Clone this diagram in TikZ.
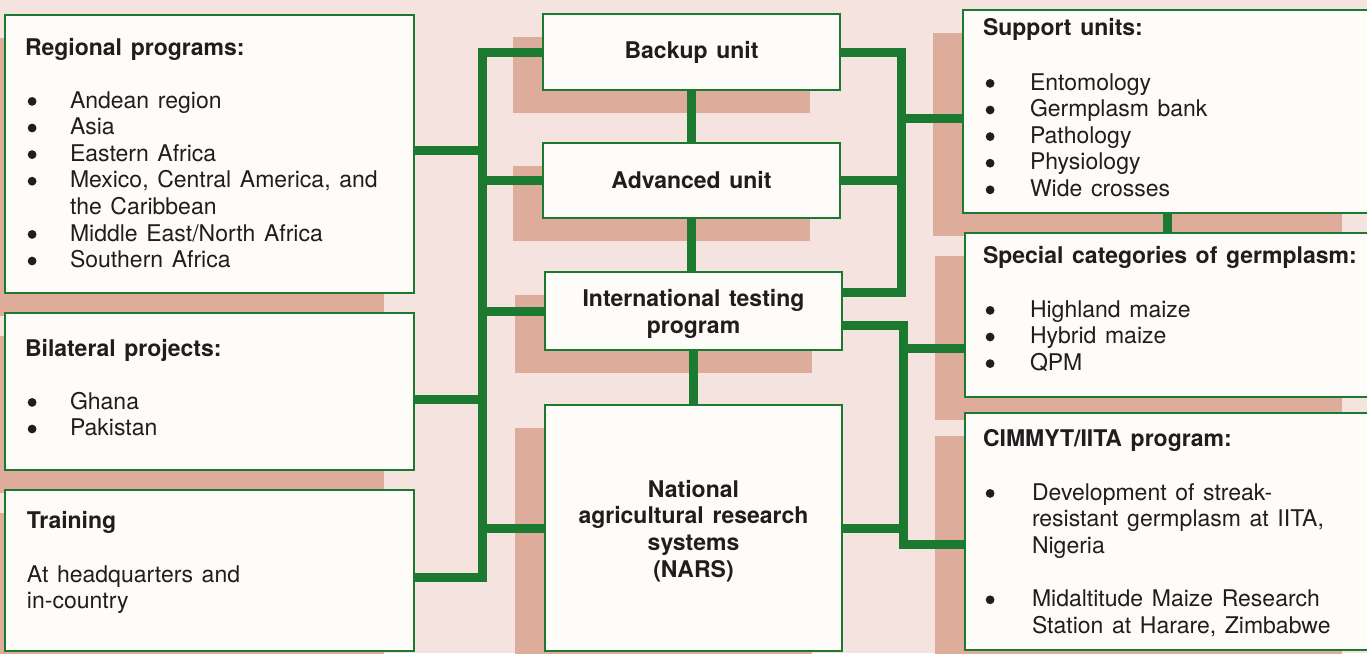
\documentclass[tikz,border=0pt]{standalone}
\usepackage{fontspec}
\setmainfont{TeX Gyre Heros}[WordSpace=1.35]
\usetikzlibrary{shadows,fit}
\definecolor{bg}{HTML}{F5E3E0}
\definecolor{shade}{HTML}{DDAC9B}
\definecolor{boxfill}{HTML}{FEFCF9}
\definecolor{grn}{HTML}{1C7A30}
\definecolor{ink}{HTML}{221C1F}
\newcommand{\blt}[1]{\makebox[#1][l]{\hspace{2.7pt}\raisebox{2.2pt}{\tikz\fill[ink] (0,0) circle (4.4pt);}}}
\begin{document}
\begin{tikzpicture}[x=1pt,y=-1pt,
  box/.style={draw=grn, line width=2.8pt, fill=boxfill, inner sep=0pt,
    general shadow={fill=shade, shadow xshift=-30pt, shadow yshift=-23pt}},
  conn/.style={draw=grn, line width=9pt, line join=miter, line cap=butt},
  txt/.style={inner sep=0pt, outer sep=0pt, text=ink, anchor=base west,
    font=\fontsize{23}{26.6}\selectfont},
  hd/.style={txt, font=\fontsize{23}{26.6}\selectfont\bfseries},
  ctxt/.style={inner sep=0pt, text=ink, align=center,
    font=\fontsize{23}{26.6}\selectfont\bfseries}]
\useasboundingbox[fill=bg] (0,0) rectangle (1367,653);

% ---- boxes (with offset shadows) ----
\node[box, fit={(5,15) (414,293)}] (rp) {};
\node[box, fit={(5,313) (414,470)}] (bp) {};
\node[box, fit={(5,490) (414,651)}] (tr) {};
\node[box, fit={(543,14) (840,90)}] (backup) {};
\node[box, fit={(543,143) (840,218)}] (adv) {};
\node[box, fit={(545,272) (842,350)}] (itp) {};
\node[box, fit={(545,405) (842,651)}] (nars) {};
\node[box, fit={(963,10) (1372,213)}] (sup) {};
\node[box, fit={(965,233) (1372,397)}] (spc) {};
\node[box, fit={(965,413) (1372,650)}] (cim) {};

% ---- connector end points ----
\coordinate (lbx) at (482,0);
\coordinate (rbx) at (901,0);
\coordinate (rbx2) at (903,0);
\coordinate (rpE) at ([yshift=4pt]rp.east);
\coordinate (bpE) at ([yshift=-7.5pt]bp.east);
\coordinate (trE) at ([yshift=-6.5pt]tr.east);
\coordinate (supW) at ([yshift=-6.5pt]sup.west);
\coordinate (spcW) at ([yshift=-33pt]spc.west);
\coordinate (cimW) at ([yshift=-13pt]cim.west);
\coordinate (itpNE) at ([yshift=19pt]itp.east);
\coordinate (itpSE) at ([yshift=-14pt]itp.east);

% ---- left bus ----
\draw[conn] (backup.west) -| (lbx |- trE) -- (trE);
\draw[conn] (rpE) -- (rpE -| lbx);
\draw[conn] (adv.west) -- (adv.west -| lbx);
\draw[conn] (itp.west) -- (itp.west -| lbx);
\draw[conn] (bpE) -- (bpE -| lbx);
\draw[conn] (nars.west) -- (nars.west -| lbx);

% ---- right upper bus ----
\draw[conn] (backup.east) -| (rbx |- itpNE) -- (itpNE);
\draw[conn] (supW) -- (supW -| rbx);
\draw[conn] (adv.east) -- (adv.east -| rbx);

% ---- right lower bus ----
\draw[conn] (itpSE) -| (rbx2 |- cimW) -- (cimW);
\draw[conn] (spcW) -- (spcW -| rbx2);
\draw[conn] (nars.east) -- (nars.east -| rbx2);

% ---- vertical links ----
\draw[conn] (backup.south) -- (adv.north);
\draw[conn] (adv.south) -- (adv.south |- itp.north);
\draw[conn] (itp.south) -- (nars.north);
\draw[conn] (sup.south) -- (sup.south |- spc.north);

% ---- texts: left column ----
\node[hd] (rpH) at (25,55) {Regional programs:};
\node[txt] (rpL) at (25,108) {\begin{tabular}[t]{@{}l@{}l@{}}
\blt{45pt} & Andean region\\
\blt{45pt} & Asia\\
\blt{45pt} & Eastern Africa\\
\blt{45pt} & Mexico, Central America, and\\
 & the Caribbean\\
\blt{45pt} & Middle East/North Africa\\
\blt{45pt} & Southern Africa
\end{tabular}};

\node[hd] (bpH) at (25,356) {Bilateral projects:};
\node[txt] (bpL) at (25,409) {\begin{tabular}[t]{@{}l@{}l@{}}
\blt{45pt} & Ghana\\
\blt{45pt} & Pakistan
\end{tabular}};

\node[hd] (trH) at (27,528) {Training};
\node[txt] (trL) at (27,582) {\begin{tabular}[t]{@{}l@{}}
At headquarters and\\
in-country
\end{tabular}};

% ---- texts: centre column ----
\node[ctxt] (backupT) at (backup.center) {Backup unit};
\node[ctxt] (advT) at (adv.center) {Advanced unit};
\node[ctxt] (itpT) at ([yshift=-3pt]itp.center) {International testing\\program};
\node[ctxt] (narsT) at ([yshift=-3pt]nars.center) {National\\agricultural research\\systems\\(NARS)};

% ---- texts: right column ----
\node[hd] (supH) at (983,35) {Support units:};
\node[txt] (supL) at (983,90) {\begin{tabular}[t]{@{}l@{}l@{}}
\blt{47pt} & Entomology\\
\blt{47pt} & Germplasm bank\\
\blt{47pt} & Pathology\\
\blt{47pt} & Physiology\\
\blt{47pt} & Wide crosses
\end{tabular}};

\node[hd] (spcH) at (983,263) {Special categories of germplasm:};
\node[txt] (spcL) at (983,317) {\begin{tabular}[t]{@{}l@{}l@{}}
\blt{47pt} & Highland maize\\
\blt{47pt} & Hybrid maize\\
\blt{47pt} & QPM
\end{tabular}};

\node[hd] (cimH) at (983,446) {CIMMYT/IITA program:};
\node[txt] (cimL) at (983,500) {\begin{tabular}[t]{@{}l@{}l@{}}
\blt{49pt} & Development of streak-\\
 & resistant germplasm at IITA,\\
 & Nigeria\\
 & \\
\blt{49pt} & Midaltitude Maize Research\\
 & Station at Harare, Zimbabwe
\end{tabular}};
\end{tikzpicture}
\end{document}
